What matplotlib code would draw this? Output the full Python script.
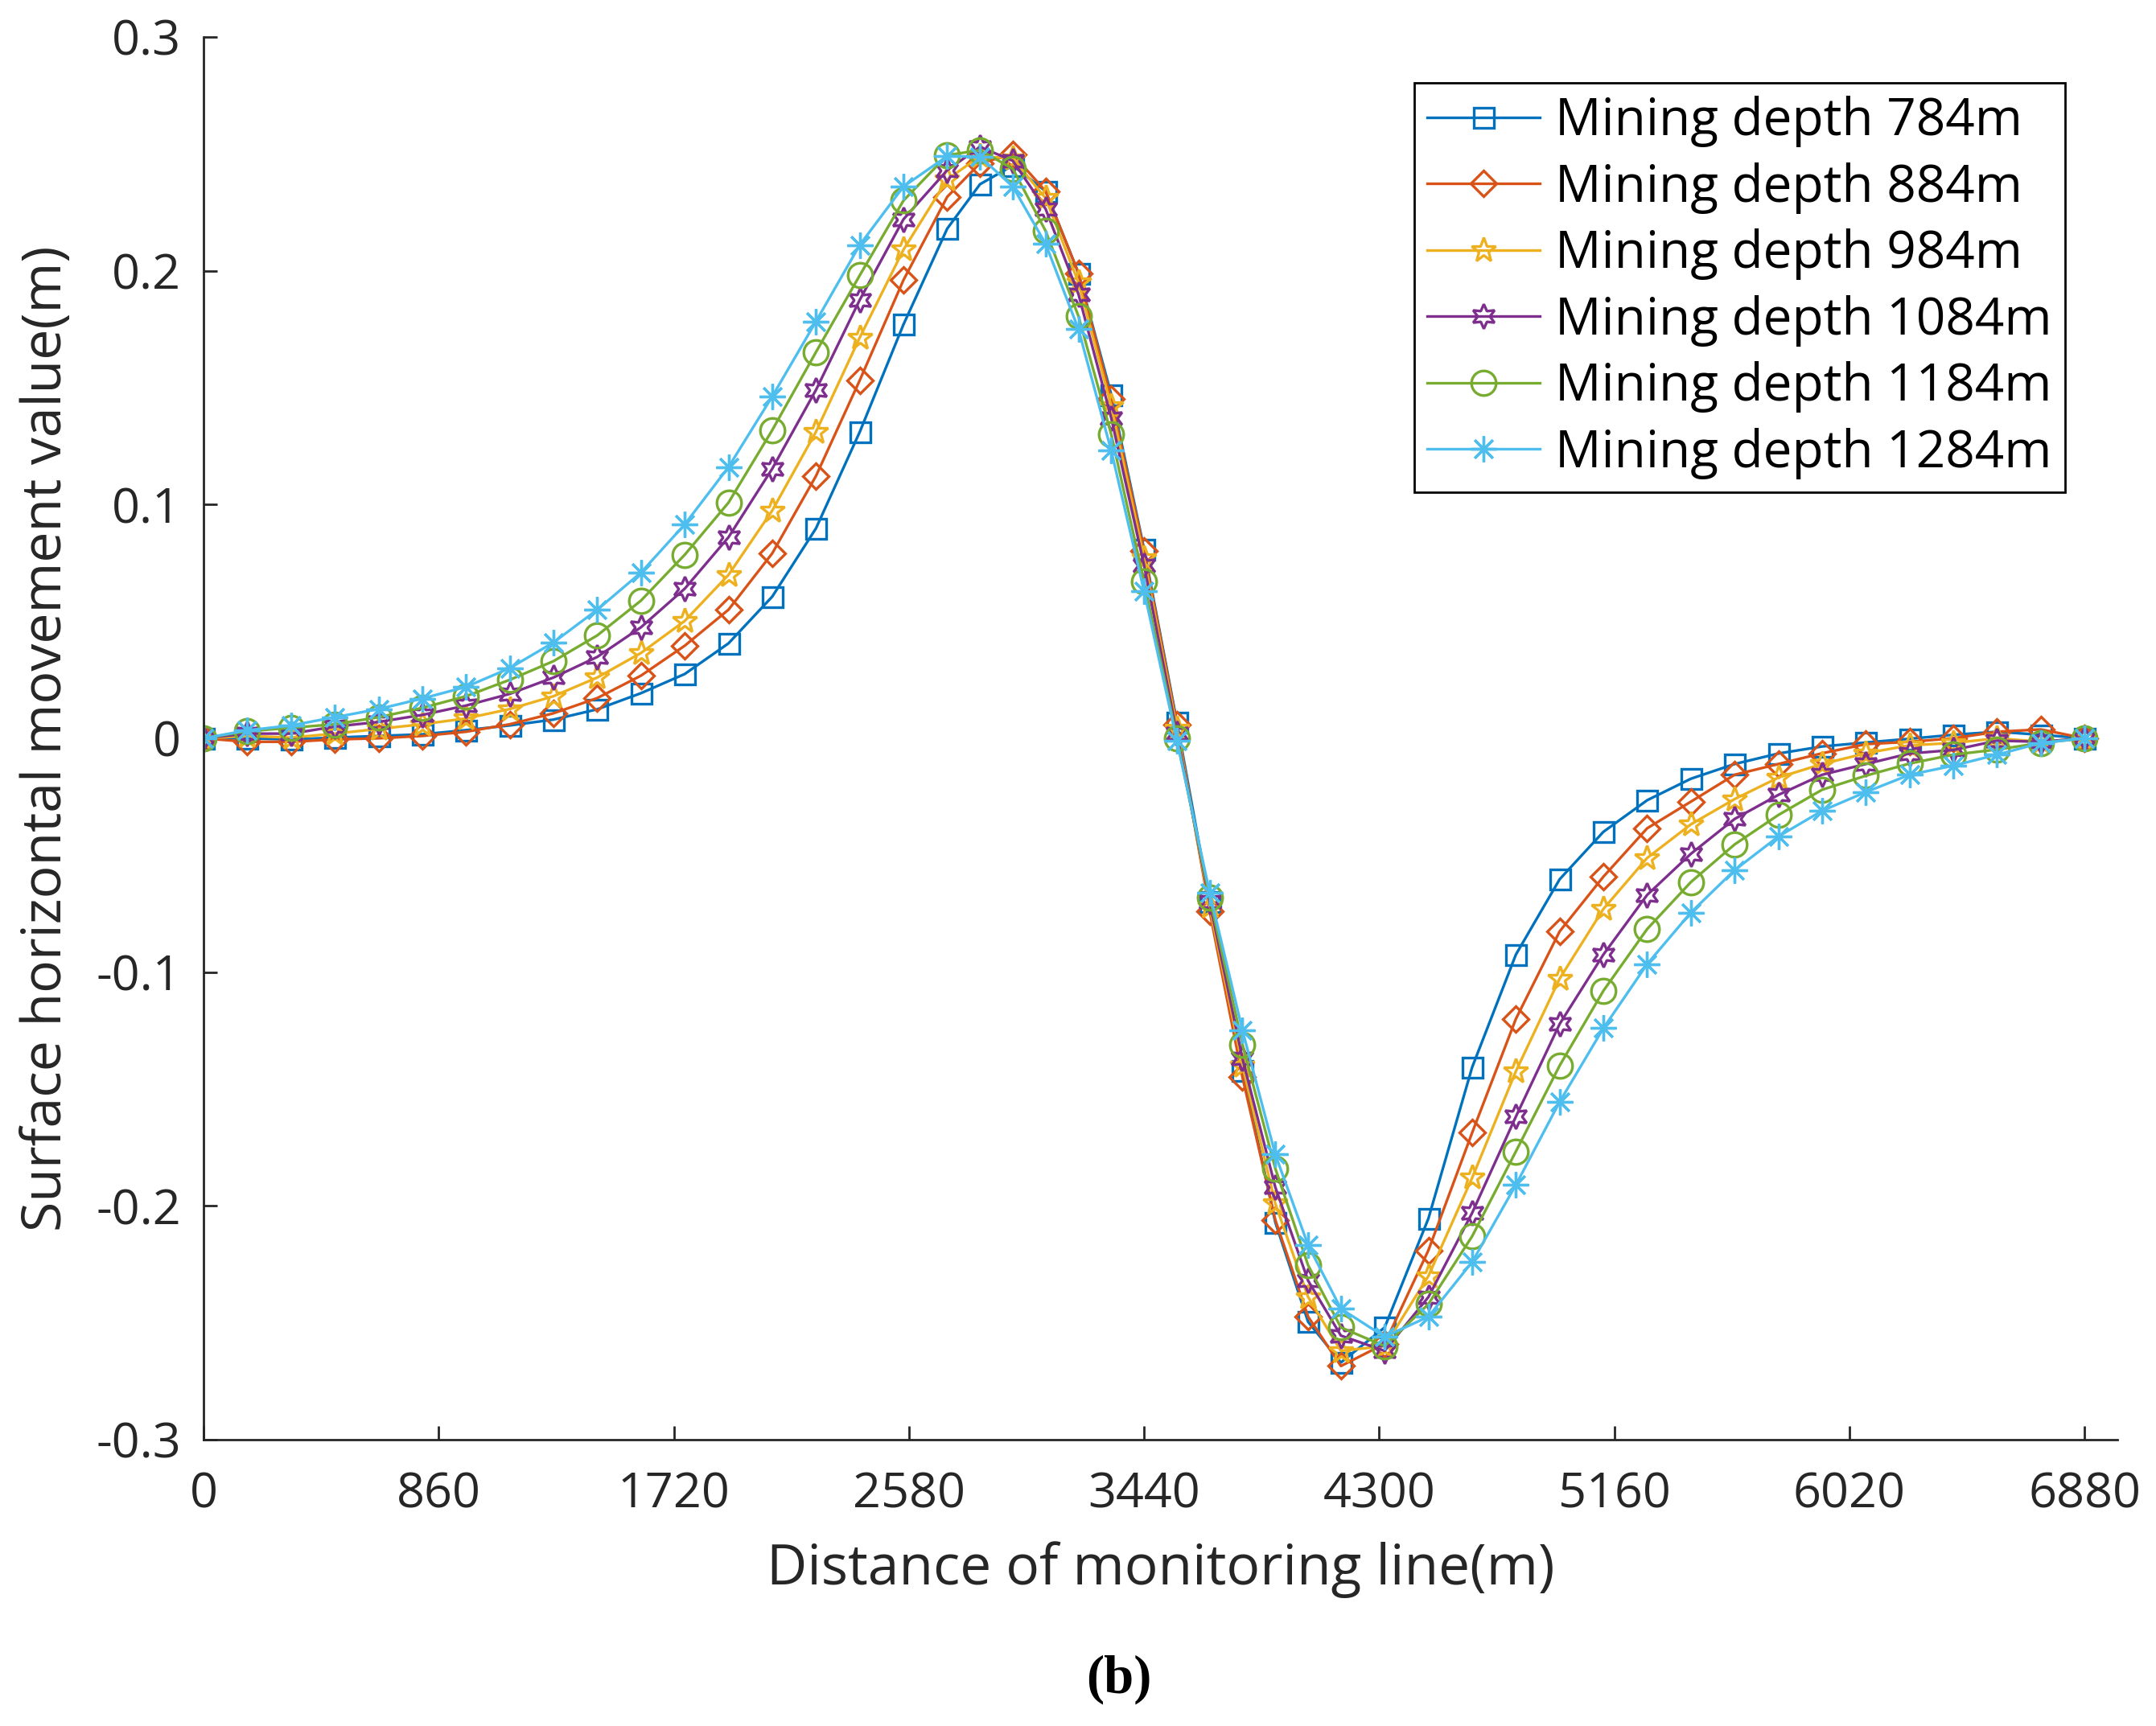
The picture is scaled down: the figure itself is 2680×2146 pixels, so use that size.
import matplotlib
matplotlib.use("Agg")
import matplotlib.pyplot as plt


# ==========================================================
# DATA
# ==========================================================

distance = [
    0, 160, 320, 480, 640, 800, 960, 1120, 1280, 1440, 1600, 1760, 1920,
    2080, 2240, 2400, 2560, 2720,
    2840, 2960, 3080, 3200, 3320, 3440, 3560, 3680, 3800, 3920, 4040, 4160,
    4320, 4480, 4640, 4800, 4960, 5120, 5280, 5440, 5600, 5760, 5920, 6080,
    6240, 6400, 6560, 6720, 6880,
]

depth_784 = [
    0.000, 0.000, -0.0005, 0.0003, 0.001, 0.0017, 0.0035, 0.0055, 0.008, 0.0124,
    0.0193, 0.0275, 0.0406, 0.0606, 0.0898, 0.131, 0.177, 0.218,
    0.237, 0.245, 0.234, 0.199, 0.147, 0.081, 0.007, -0.070, -0.142, -0.207,
    -0.2496, -0.267,
    -0.252, -0.2054, -0.1407, -0.0925, -0.0603, -0.040, -0.0265, -0.0173,
    -0.011, -0.0065, -0.0035, -0.0018, -0.0002, 0.0015, 0.0028, 0.0015, 0.000,
]

depth_884 = [
    0.000, -0.0015, -0.0015, -0.0005, 0.000, 0.001, 0.0028, 0.006, 0.0107, 0.0172,
    0.0268, 0.0396, 0.055, 0.0791, 0.1122, 0.1531, 0.196, 0.2316,
    0.246, 0.2498, 0.234, 0.199, 0.145, 0.080, 0.006, -0.074, -0.145, -0.206,
    -0.2474, -0.2685,
    -0.259, -0.219, -0.1687, -0.120, -0.0826, -0.0592, -0.0385, -0.0271,
    -0.0156, -0.011, -0.0064, -0.0025, -0.0015, 0.000, 0.0028, 0.0038, 0.000,
]

depth_984 = [
    0.000, 0.001, 0.0003, 0.002, 0.004, 0.006, 0.0085, 0.0125, 0.018, 0.026,
    0.0365, 0.0502, 0.0699, 0.0974, 0.1311, 0.1714, 0.209, 0.239,
    0.249, 0.248, 0.231, 0.195, 0.142, 0.077, 0.004, -0.072, -0.140, -0.199,
    -0.239, -0.262,
    -0.260, -0.230, -0.188, -0.1424, -0.1028, -0.073, -0.0512, -0.0368,
    -0.026, -0.0168, -0.011, -0.0064, -0.003, -0.002, 0.000, -0.0015, 0.000,
]

depth_1084 = [
    0.000, 0.002, 0.002, 0.005, 0.007, 0.010, 0.014, 0.019, 0.026, 0.0348,
    0.0475, 0.064, 0.086, 0.1153, 0.149, 0.1875, 0.222, 0.243,
    0.253, 0.247, 0.2264, 0.190, 0.137, 0.074, 0.002, -0.070, -0.137, -0.192,
    -0.232, -0.2555,
    -0.262, -0.239, -0.203, -0.1618, -0.1222, -0.0925, -0.067, -0.0494,
    -0.0345, -0.0242, -0.0156, -0.011, -0.0065, -0.005, -0.001, -0.0015, 0.000,
]

depth_1184 = [
    0.000, 0.003, 0.0045, 0.006, 0.009, 0.013, 0.018, 0.025, 0.033, 0.044,
    0.0589, 0.0785, 0.1008, 0.1318, 0.1652, 0.198, 0.230, 0.2494,
    0.2516, 0.2436, 0.217, 0.1806, 0.130, 0.067, 0.000, -0.068, -0.131, -0.184,
    -0.2254, -0.252,
    -0.260, -0.242, -0.213, -0.1767, -0.140, -0.108, -0.0816, -0.0615,
    -0.0454, -0.0328, -0.022, -0.016, -0.0108, -0.007, -0.0048, -0.002, 0.000,
]

depth_1284 = [
    0.000, 0.0034, 0.0055, 0.009, 0.0125, 0.017, 0.022, 0.030, 0.041, 0.055,
    0.0709, 0.0915, 0.116, 0.1462, 0.1783, 0.211, 0.236, 0.249,
    0.2488, 0.236, 0.2115, 0.175, 0.123, 0.063, -0.001, -0.066, -0.125, -0.178,
    -0.2168, -0.244,
    -0.256, -0.2474, -0.224, -0.191, -0.1555, -0.124, -0.0966, -0.0745,
    -0.0564, -0.042, -0.031, -0.023, -0.0156, -0.0117, -0.007, -0.002, 0.000,
]

series_labels = [
    "Mining depth 784m",
    "Mining depth 884m",
    "Mining depth 984m",
    "Mining depth 1084m",
    "Mining depth 1184m",
    "Mining depth 1284m",
]

x_ticks = [0, 860, 1720, 2580, 3440, 4300, 5160, 6020, 6880]
y_ticks = [-0.3, -0.2, -0.1, 0, 0.1, 0.2, 0.3]
y_tick_labels = ["-0.3", "-0.2", "-0.1", "0", "0.1", "0.2", "0.3"]


# ==========================================================
# STYLE
# ==========================================================

COLORS = ["#0072BD", "#D95319", "#EDB120", "#7E2F8E", "#77AC30", "#4DBEEE"]
MARKERS = ["s", "D", "*", (6, 1, 0), "o", (8, 2, 0)]
MSIZES = [9.0, 8.0, 11.5, 11.0, 11.0, 11.5]
AXIS_GRAY = "#262626"
FONT = ["Open Sans", "DejaVu Sans"]

plt.rcParams["font.family"] = FONT


def main():
    fig = plt.figure(figsize=(13.4, 10.73), dpi=200)
    ax = fig.add_axes([0.0944, 0.1659, 0.8877, 0.8127])

    all_series = [depth_784, depth_884, depth_984, depth_1084, depth_1184, depth_1284]
    for values, label, color, marker, ms in zip(all_series, series_labels, COLORS, MARKERS, MSIZES):
        ax.plot(
            distance, values,
            color=color, linewidth=1.2,
            marker=marker, markersize=ms,
            markerfacecolor="none", markeredgecolor=color, markeredgewidth=1.2,
            label=label,
        )

    ax.set_xlim(0, 7000)
    ax.set_ylim(-0.3, 0.3)
    ax.set_xticks(x_ticks)
    ax.set_xticklabels([str(t) for t in x_ticks])
    ax.set_yticks(y_ticks)
    ax.set_yticklabels(y_tick_labels)

    for side in ["top", "right"]:
        ax.spines[side].set_visible(False)
    for side in ["left", "bottom"]:
        ax.spines[side].set_color(AXIS_GRAY)
        ax.spines[side].set_linewidth(1.0)

    ax.tick_params(direction="in", length=6, width=1.0, colors=AXIS_GRAY,
                   labelsize=22)
    ax.tick_params(axis="x", pad=14)
    ax.tick_params(axis="y", pad=10)

    ax.set_xlabel("Distance of monitoring line(m)", fontsize=25, color=AXIS_GRAY, labelpad=10)
    ax.set_ylabel("Surface horizontal movement value(m)", fontsize=24.5, color=AXIS_GRAY, labelpad=10)

    leg = ax.legend(
        loc="upper right",
        bbox_to_anchor=(0.9578, 0.952),
        bbox_transform=fig.transFigure,
        borderaxespad=0,
        fontsize=23,
        handlelength=2.2,
        handletextpad=0.3,
        labelspacing=0.29,
        borderpad=0.25,
        fancybox=False,
        framealpha=1,
    )
    leg.get_frame().set_edgecolor("black")
    leg.get_frame().set_linewidth(1.0)
    for text in leg.get_texts():
        text.set_color("black")

    fig.text(0.5188, 0.027, "(b)", ha="center", va="center", fontsize=24,
             fontweight="bold", family=["Liberation Serif", "DejaVu Serif"])

    fig.savefig("out.png", dpi=200)
    plt.close(fig)


if __name__ == "__main__":
    main()
